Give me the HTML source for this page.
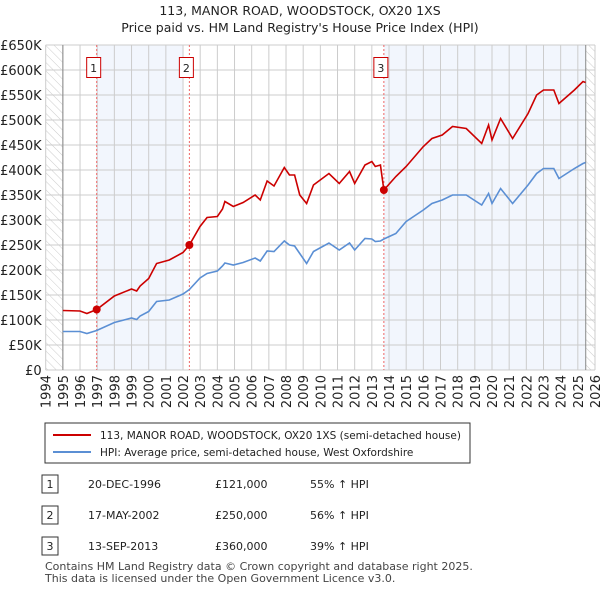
<!DOCTYPE html>
<html><head><meta charset="utf-8"><style>
body{margin:0;background:#fff;font-family:"Liberation Sans","DejaVu Sans",sans-serif;}
svg text{font-family:"DejaVu Sans","Liberation Sans",sans-serif;}
</style></head><body>
<svg id="c" width="600" height="590" xmlns="http://www.w3.org/2000/svg">
<defs><pattern id="hatch" width="6" height="6" patternUnits="userSpaceOnUse" patternTransform="rotate(-45)"><line x1="0" y1="0" x2="0" y2="6" stroke="#ccc" stroke-width="1"/></pattern></defs>
<text x="300" y="15" text-anchor="middle" font-size="12.5" fill="#222">113, MANOR ROAD, WOODSTOCK, OX20 1XS</text>
<text x="300" y="32" text-anchor="middle" font-size="12.5" fill="#222">Price paid vs. HM Land Registry's House Price Index (HPI)</text>
<g id="plot"></g>
<g>
<rect x="45" y="423" width="425" height="40" fill="#fff" stroke="#333" stroke-width="1"/>
<line x1="53" y1="435" x2="91" y2="435" stroke="#cc0000" stroke-width="2"/>
<text x="100" y="439" font-size="10.5" fill="#222">113, MANOR ROAD, WOODSTOCK, OX20 1XS (semi-detached house)</text>
<line x1="53" y1="452" x2="91" y2="452" stroke="#5b8fd4" stroke-width="2"/>
<text x="100" y="456" font-size="10.5" fill="#222">HPI: Average price, semi-detached house, West Oxfordshire</text>
</g>
<g font-size="11" fill="#222">
<rect x="42" y="475" width="16" height="18" fill="#fff" stroke="#333"/><text x="50" y="488" text-anchor="middle">1</text>
<text x="88" y="488">20-DEC-1996</text><text x="215" y="488">£121,000</text><text x="310" y="488">55% ↑ HPI</text>
<rect x="42" y="506" width="16" height="18" fill="#fff" stroke="#333"/><text x="50" y="519" text-anchor="middle">2</text>
<text x="88" y="519">17-MAY-2002</text><text x="215" y="519">£250,000</text><text x="310" y="519">56% ↑ HPI</text>
<rect x="42" y="537" width="16" height="18" fill="#fff" stroke="#333"/><text x="50" y="550" text-anchor="middle">3</text>
<text x="88" y="550">13-SEP-2013</text><text x="215" y="550">£360,000</text><text x="310" y="550">39% ↑ HPI</text>
</g>
<text x="45" y="570" font-size="11" fill="#444">Contains HM Land Registry data © Crown copyright and database right 2025.</text>
<text x="45" y="582" font-size="11" fill="#444">This data is licensed under the Open Government Licence v3.0.</text>
</svg>
<script>
const yTickValues=[0,50,100,150,200,250,300,350,400,450,500,550,600,650];
const yTickLabels=["£0","£50K","£100K","£150K","£200K","£250K","£300K","£350K","£400K","£450K","£500K","£550K","£600K","£650K"];
const xYears=[1994,1995,1996,1997,1998,1999,2000,2001,2002,2003,2004,2005,2006,2007,2008,2009,2010,2011,2012,2013,2014,2015,2016,2017,2018,2019,2020,2021,2022,2023,2024,2025,2026];
const dates=[1995.0,1996.0,1996.4,1996.97,1998.0,1999.0,1999.3,1999.5,2000.0,2000.46,2001.2,2002.0,2002.37,2002.99,2003.4,2004.0,2004.3,2004.44,2004.93,2005.5,2006.2,2006.5,2006.9,2007.3,2007.9,2008.2,2008.5,2008.8,2009.2,2009.6,2010.5,2011.1,2011.7,2012.0,2012.6,2013.0,2013.2,2013.5,2013.7,2014.4,2015.0,2016.0,2016.5,2017.1,2017.7,2018.5,2019.4,2019.8,2020.0,2020.5,2021.2,2022.1,2022.6,2023.0,2023.6,2023.9,2024.8,2025.3,2025.45];
const hpiValues=[77,77,73,79,95,104,101,108,117,137,140,152,161,184,193,198,208,214,210,215,224,218,238,237,258,250,248,233,213,237,254,240,254,240,263,262,257,258,262,273,297,320,333,340,350,350,330,353,333,363,333,370,393,403,403,383,403,413,415];
const priceValues=[119,118,113,121,148,162,158,168,183,213,220,235,250,287,305,307,322,337,327,335,350,340,378,368,405,390,390,350,333,370,393,373,397,373,410,417,407,410,360,387,407,447,463,470,487,483,453,490,460,503,463,513,550,560,560,533,560,577,575];
const saleDates=[1996.97,2002.37,2013.7];
const salePrices=[121,250,360];
const saleLabels=["1","2","3"];

const L=45.7,R=595,T=45,B=370;
const xs=y=>L+(y-1994)*(R-L)/32;
const ys=v=>B-v*(B-T)/650;
const NS="http://www.w3.org/2000/svg";
const g=document.getElementById('plot');
function mk(t,a,p){const e=document.createElementNS(NS,t);for(const k in a)e.setAttribute(k,a[k]);(p||g).appendChild(e);return e;}

let e;
e=mk('rect',{x:L,y:T,width:xs(1995)-L,height:B-T,fill:'url(#hatch)'});


e=mk('rect',{x:xs(2025.46),y:T,width:R-xs(2025.46),height:B-T,fill:'url(#hatch)'});


e=mk('rect',{x:xs(saleDates[0]),y:T,width:xs(2002.0)-xs(saleDates[0]),height:B-T,fill:'#f2f6fd'});


e=mk('rect',{x:xs(saleDates[2]),y:T,width:xs(2025.46)-xs(saleDates[2]),height:B-T,fill:'#f2f6fd'});



yTickValues.forEach((v,i)=>{
  const l=mk('line',{x1:L,x2:R,y1:ys(v),y2:ys(v),stroke:'#ccc','stroke-width':1});
  
  
  const t=mk('text',{x:L-4,y:ys(v)+5,'text-anchor':'end','font-size':13,fill:'#222'});
  t.textContent=yTickLabels[i];
  
  
});
xYears.forEach(yr=>{
  const l=mk('line',{x1:xs(yr),x2:xs(yr),y1:T,y2:B,stroke:'#ccc','stroke-width':1});
  
  
  const t=mk('text',{x:0,y:0,'text-anchor':'end','font-size':13,fill:'#222',transform:`translate(${xs(yr)+5},${B+5}) rotate(-90)`});
  t.textContent=yr;
  
  
});
e=mk('line',{x1:xs(1995),x2:xs(1995),y1:T,y2:B,stroke:'#888'});


e=mk('line',{x1:xs(2025.46),x2:xs(2025.46),y1:T,y2:B,stroke:'#888'});



saleDates.forEach((d,i)=>{
  const l=mk('line',{x1:xs(d),x2:xs(d),y1:T,y2:B,stroke:'#e66','stroke-width':1,'stroke-dasharray':'2,2'});
  
  
});

const hp=mk('polyline',{points:dates.map((d,i)=>xs(d)+','+ys(hpiValues[i])).join(' '),fill:'none',stroke:'#5b8fd4','stroke-width':1.6});


const pp=mk('polyline',{points:dates.map((d,i)=>xs(d)+','+ys(priceValues[i])).join(' '),fill:'none',stroke:'#cc0000','stroke-width':1.6});



saleDates.forEach((d,i)=>{
  const c=mk('circle',{cx:xs(d),cy:ys(salePrices[i]),r:4,fill:'#cc0000'});
  
  
  const r=mk('rect',{x:xs(d)-10,y:57.5,width:14,height:20,fill:'#fff',stroke:'#cc0000'});
  
  
  const t=mk('text',{x:xs(d)-3,y:72,'text-anchor':'middle','font-size':11,fill:'#222'});
  t.textContent=saleLabels[i];
  
  
});
</script>
</body></html>
